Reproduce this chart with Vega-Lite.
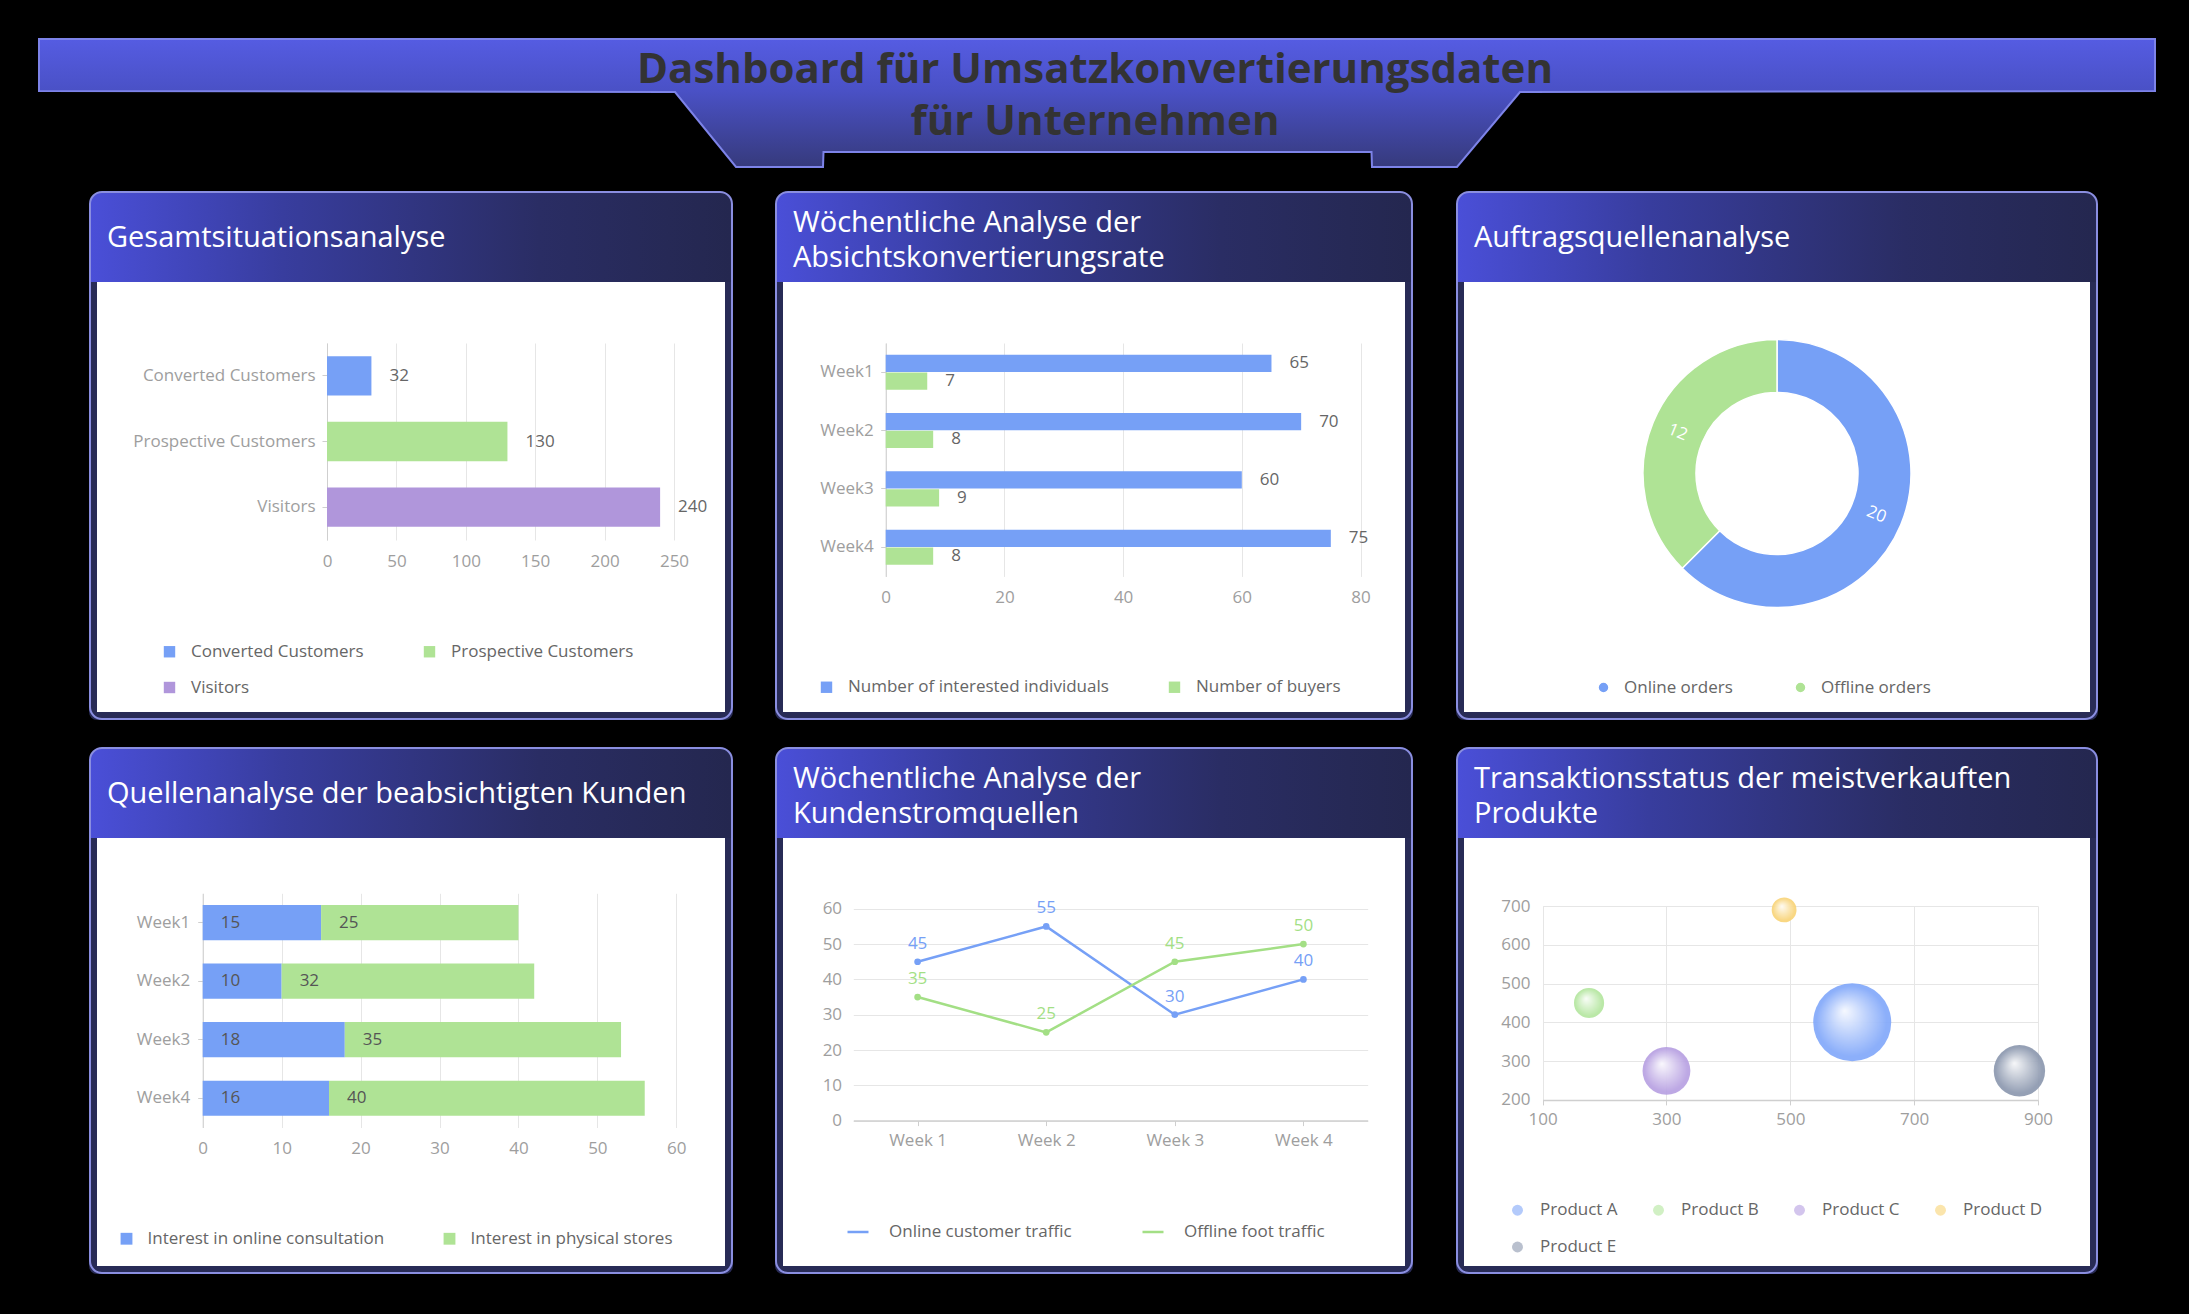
{
  "$schema": "https://vega.github.io/schema/vega-lite/v6.json",
  "width": 2189,
  "height": 1314,
  "autosize": {"type": "none"},
  "padding": 0,
  "background": "#ffffff",
  "config": {
    "font": "Open Sans",
    "view": {"stroke": null},
    "axis": {
      "labelFont": "Open Sans",
      "labelFontSize": 17,
      "labelColor": "#9e9e9e",
      "labelLimit": 320,
      "labelFlush": false,
      "labelOverlap": false,
      "domainColor": "#cfcfcf",
      "tickColor": "#cfcfcf",
      "gridColor": "#e6e6e6",
      "gridWidth": 1
    },
    "legend": {
      "labelFont": "Open Sans",
      "labelFontSize": 17,
      "labelColor": "#666666",
      "labelLimit": 420,
      "padding": 0
    }
  },
  "datasets": {
    "mask": [
      {"x0": 0, "x1": 2189, "y0": 0, "y1": 282},
      {"x0": 0, "x1": 2189, "y0": 712, "y1": 838},
      {"x0": 0, "x1": 2189, "y0": 1266, "y1": 1314},
      {"x0": 0, "x1": 97, "y0": 0, "y1": 1314},
      {"x0": 725, "x1": 783, "y0": 0, "y1": 1314},
      {"x0": 1405, "x1": 1464, "y0": 0, "y1": 1314},
      {"x0": 2090, "x1": 2189, "y0": 0, "y1": 1314}
    ],
    "panels": [
      {"x0": 97, "x1": 725, "top": 192, "y0": 282, "y1": 712, "title": ["Gesamtsituationsanalyse"]},
      {"x0": 783, "x1": 1405, "top": 192, "y0": 282, "y1": 712, "title": ["Wöchentliche Analyse der", "Absichtskonvertierungsrate"]},
      {"x0": 1464, "x1": 2090, "top": 192, "y0": 282, "y1": 712, "title": ["Auftragsquellenanalyse"]},
      {"x0": 97, "x1": 725, "top": 748, "y0": 838, "y1": 1266, "title": ["Quellenanalyse der beabsichtigten Kunden"]},
      {"x0": 783, "x1": 1405, "top": 748, "y0": 838, "y1": 1266, "title": ["Wöchentliche Analyse der", "Kundenstromquellen"]},
      {"x0": 1464, "x1": 2090, "top": 748, "y0": 838, "y1": 1266, "title": ["Transaktionsstatus der meistverkauften", "Produkte"]}
    ],
    "banner": [
      {"x": 39, "top": 39, "bottom": 91},
      {"x": 675, "top": 39, "bottom": 92},
      {"x": 736, "top": 39, "bottom": 167},
      {"x": 823, "top": 39, "bottom": 167},
      {"x": 823.5, "top": 39, "bottom": 152},
      {"x": 1371.5, "top": 39, "bottom": 152},
      {"x": 1372, "top": 39, "bottom": 167},
      {"x": 1457, "top": 39, "bottom": 167},
      {"x": 1520, "top": 39, "bottom": 92},
      {"x": 2155, "top": 39, "bottom": 91}
    ],
    "heading": [
      {"cx": 1095, "cy": 70, "text": ["Dashboard für Umsatzkonvertierungsdaten", "für Unternehmen"]}
    ],
    "overview": [
      {"stage": "Converted Customers", "count": 32},
      {"stage": "Prospective Customers", "count": 130},
      {"stage": "Visitors", "count": 240}
    ],
    "conversion": [
      {"week": "Week1", "series": "Number of interested individuals", "value": 65},
      {"week": "Week1", "series": "Number of buyers", "value": 7},
      {"week": "Week2", "series": "Number of interested individuals", "value": 70},
      {"week": "Week2", "series": "Number of buyers", "value": 8},
      {"week": "Week3", "series": "Number of interested individuals", "value": 60},
      {"week": "Week3", "series": "Number of buyers", "value": 9},
      {"week": "Week4", "series": "Number of interested individuals", "value": 75},
      {"week": "Week4", "series": "Number of buyers", "value": 8}
    ],
    "orders": [
      {"source": "Online orders", "orders": 20},
      {"source": "Offline orders", "orders": 12}
    ],
    "interest": [
      {"week": "Week1", "channel": "Interest in online consultation", "value": 15},
      {"week": "Week1", "channel": "Interest in physical stores", "value": 25},
      {"week": "Week2", "channel": "Interest in online consultation", "value": 10},
      {"week": "Week2", "channel": "Interest in physical stores", "value": 32},
      {"week": "Week3", "channel": "Interest in online consultation", "value": 18},
      {"week": "Week3", "channel": "Interest in physical stores", "value": 35},
      {"week": "Week4", "channel": "Interest in online consultation", "value": 16},
      {"week": "Week4", "channel": "Interest in physical stores", "value": 40}
    ],
    "traffic": [
      {"week": "Week 1", "channel": "Online customer traffic", "value": 45},
      {"week": "Week 2", "channel": "Online customer traffic", "value": 55},
      {"week": "Week 3", "channel": "Online customer traffic", "value": 30},
      {"week": "Week 4", "channel": "Online customer traffic", "value": 40},
      {"week": "Week 1", "channel": "Offline foot traffic", "value": 35},
      {"week": "Week 2", "channel": "Offline foot traffic", "value": 25},
      {"week": "Week 3", "channel": "Offline foot traffic", "value": 45},
      {"week": "Week 4", "channel": "Offline foot traffic", "value": 50}
    ],
    "products": [
      {"product": "Product A", "x": 600, "y": 400, "size": 88},
      {"product": "Product B", "x": 175, "y": 450, "size": 34},
      {"product": "Product C", "x": 300, "y": 275, "size": 54},
      {"product": "Product D", "x": 490, "y": 690, "size": 28},
      {"product": "Product E", "x": 870, "y": 275, "size": 58}
    ]
  },
  "resolve": {
    "scale": {"x": "independent", "y": "independent", "color": "independent", "theta": "independent", "size": "independent", "yOffset": "independent"},
    "axis": {"x": "independent", "y": "independent"},
    "legend": {"color": "independent", "size": "independent"}
  },
  "layer": [
    {
      "data": {"name": "mask"},
      "mark": {"type": "rect", "color": "#000000"},
      "encoding": {
        "x": {"field": "x0", "type": "quantitative", "scale": {"domain": [0, 2189], "range": [0, 2189], "nice": false, "zero": false}, "axis": null},
        "x2": {"field": "x1"},
        "y": {"field": "y0", "type": "quantitative", "scale": {"domain": [0, 1314], "range": [0, 1314], "nice": false, "zero": false}, "axis": null},
        "y2": {"field": "y1"}
      }
    },
    {
      "data": {"name": "panels"},
      "mark": {"type": "rect", "filled": false, "stroke": "#282b56", "strokeWidth": 8, "cornerRadius": 4, "xOffset": -4, "x2Offset": 4, "yOffset": -4, "y2Offset": 4},
      "encoding": {
        "x": {"field": "x0", "type": "quantitative", "scale": {"domain": [0, 2189], "range": [0, 2189], "nice": false, "zero": false}, "axis": null},
        "x2": {"field": "x1"},
        "y": {"field": "y0", "type": "quantitative", "scale": {"domain": [0, 1314], "range": [0, 1314], "nice": false, "zero": false}, "axis": null},
        "y2": {"field": "y1"}
      }
    },
    {
      "data": {"name": "panels"},
      "mark": {
        "type": "rect",
        "xOffset": -7,
        "x2Offset": 7,
        "cornerRadiusTopLeft": 12,
        "cornerRadiusTopRight": 12,
        "color": {
          "gradient": "linear", "x1": 0, "y1": 0, "x2": 1, "y2": 0,
          "stops": [
            {"offset": 0, "color": "#4a4fd8"},
            {"offset": 0.3, "color": "#383d9e"},
            {"offset": 0.7, "color": "#2a2d64"},
            {"offset": 1, "color": "#24274f"}
          ]
        }
      },
      "encoding": {
        "x": {"field": "x0", "type": "quantitative", "scale": {"domain": [0, 2189], "range": [0, 2189], "nice": false, "zero": false}, "axis": null},
        "x2": {"field": "x1"},
        "y": {"field": "top", "type": "quantitative", "scale": {"domain": [0, 1314], "range": [0, 1314], "nice": false, "zero": false}, "axis": null},
        "y2": {"field": "y0"}
      }
    },
    {
      "data": {"name": "panels"},
      "mark": {"type": "rect", "filled": false, "stroke": "#8a8ee0", "strokeWidth": 2, "cornerRadius": 12, "xOffset": -7, "x2Offset": 7, "y2Offset": 7},
      "encoding": {
        "x": {"field": "x0", "type": "quantitative", "scale": {"domain": [0, 2189], "range": [0, 2189], "nice": false, "zero": false}, "axis": null},
        "x2": {"field": "x1"},
        "y": {"field": "top", "type": "quantitative", "scale": {"domain": [0, 1314], "range": [0, 1314], "nice": false, "zero": false}, "axis": null},
        "y2": {"field": "y1"}
      }
    },
    {
      "data": {"name": "panels"},
      "transform": [{"filter": "length(datum.title) == 1"}],
      "mark": {"type": "text", "align": "left", "baseline": "middle", "dx": 10, "dy": 46, "fontSize": 29, "lineHeight": 35, "color": "#ffffff", "font": "Open Sans"},
      "encoding": {
        "x": {"field": "x0", "type": "quantitative", "scale": {"domain": [0, 2189], "range": [0, 2189], "nice": false, "zero": false}, "axis": null},
        "y": {"field": "top", "type": "quantitative", "scale": {"domain": [0, 1314], "range": [0, 1314], "nice": false, "zero": false}, "axis": null},
        "text": {"field": "title"}
      }
    },
    {
      "data": {"name": "panels"},
      "transform": [{"filter": "length(datum.title) == 2"}],
      "mark": {"type": "text", "align": "left", "baseline": "middle", "dx": 10, "dy": 30.5, "fontSize": 29, "lineHeight": 35, "color": "#ffffff", "font": "Open Sans"},
      "encoding": {
        "x": {"field": "x0", "type": "quantitative", "scale": {"domain": [0, 2189], "range": [0, 2189], "nice": false, "zero": false}, "axis": null},
        "y": {"field": "top", "type": "quantitative", "scale": {"domain": [0, 1314], "range": [0, 1314], "nice": false, "zero": false}, "axis": null},
        "text": {"field": "title"}
      }
    },
    {
      "data": {"name": "banner"},
      "mark": {
        "type": "area",
        "interpolate": "linear",
        "stroke": "#7d83e8",
        "strokeWidth": 2,
        "color": {
          "gradient": "linear", "x1": 0, "y1": 0, "x2": 0, "y2": 1,
          "stops": [
            {"offset": 0, "color": "#555ce2"},
            {"offset": 0.4, "color": "#4a51c6"},
            {"offset": 1, "color": "#363a7c"}
          ]
        }
      },
      "encoding": {
        "x": {"field": "x", "type": "quantitative", "scale": {"domain": [0, 2189], "range": [0, 2189], "nice": false, "zero": false}, "axis": null},
        "y": {"field": "top", "type": "quantitative", "scale": {"domain": [0, 1314], "range": [0, 1314], "nice": false, "zero": false}, "axis": null},
        "y2": {"field": "bottom"}
      }
    },
    {
      "data": {"name": "heading"},
      "mark": {"type": "text", "align": "center", "baseline": "middle", "fontSize": 42, "fontWeight": "bold", "lineHeight": 52, "color": "#333333", "font": "Open Sans"},
      "encoding": {
        "x": {"field": "cx", "type": "quantitative", "scale": {"domain": [0, 2189], "range": [0, 2189], "nice": false, "zero": false}, "axis": null},
        "y": {"field": "cy", "type": "quantitative", "scale": {"domain": [0, 1314], "range": [0, 1314], "nice": false, "zero": false}, "axis": null},
        "text": {"field": "text"}
      }
    },
    {
      "data": {"name": "overview"},
      "resolve": {"axis": {"x": "independent"}},
      "layer": [
        {
          "mark": {"type": "bar"},
          "encoding": {
            "y": {"field": "stage", "type": "nominal", "sort": null, "scale": {"range": [343, 540], "paddingInner": 0.4, "paddingOuter": 0.2},
                  "axis": {"orient": "left", "offset": -327, "title": null, "domain": true, "ticks": true, "tickSize": 5, "labelPadding": 7}},
            "x": {"field": "count", "type": "quantitative", "scale": {"domain": [0, 250], "range": [327, 674], "nice": false},
                  "axis": {"orient": "top", "offset": -343, "title": null, "grid": true, "labels": false, "ticks": false, "domain": false, "values": [0, 50, 100, 150, 200, 250]}},
            "color": {"field": "stage", "type": "nominal", "sort": null,
                      "scale": {"domain": ["Converted Customers", "Prospective Customers", "Visitors"], "range": ["#76a0f6", "#afe395", "#b096db"]},
                      "legend": {"title": null, "orient": "none", "legendX": 161, "legendY": 643, "direction": "horizontal", "columns": 2, "columnPadding": 57, "rowPadding": 18, "symbolType": "square", "symbolSize": 130, "labelOffset": 13}}
          }
        },
        {
          "mark": {"type": "text", "align": "left", "baseline": "middle", "dx": 18, "fontSize": 17, "color": "#666666"},
          "encoding": {
            "y": {"field": "stage", "type": "nominal", "sort": null, "scale": {"range": [343, 540], "paddingInner": 0.4, "paddingOuter": 0.2},
                  "axis": {"orient": "left", "offset": -327, "title": null, "domain": true, "ticks": true, "tickSize": 5, "labelPadding": 7}},
            "x": {"field": "count", "type": "quantitative", "scale": {"domain": [0, 250], "range": [327, 674], "nice": false},
                  "axis": {"orient": "bottom", "offset": -774, "title": null, "grid": false, "domain": false, "ticks": false, "tickSize": 0, "labelPadding": 13, "values": [0, 50, 100, 150, 200, 250]}},
            "text": {"field": "count", "type": "quantitative"}
          }
        }
      ]
    },
    {
      "data": {"name": "conversion"},
      "resolve": {"axis": {"x": "independent"}},
      "layer": [
        {
          "mark": {"type": "bar"},
          "encoding": {
            "y": {"field": "week", "type": "nominal", "sort": null, "scale": {"range": [343, 576.4], "paddingInner": 0.4, "paddingOuter": 0.2},
                  "axis": {"orient": "left", "offset": -885.7, "title": null, "domain": true, "ticks": true, "tickSize": 5, "labelPadding": 7.5}},
            "yOffset": {"field": "series", "type": "nominal", "sort": null, "scale": {"domain": ["Number of interested individuals", "Number of buyers"], "paddingInner": 0.03}},
            "x": {"field": "value", "type": "quantitative", "scale": {"domain": [0, 80], "range": [885.7, 1360.5], "nice": false},
                  "axis": {"orient": "top", "offset": -343, "title": null, "grid": true, "labels": false, "ticks": false, "domain": false, "values": [0, 20, 40, 60, 80]}},
            "color": {"field": "series", "type": "nominal", "sort": null,
                      "scale": {"domain": ["Number of interested individuals", "Number of buyers"], "range": ["#76a0f6", "#afe395"]},
                      "legend": {"title": null, "orient": "none", "legendX": 818, "legendY": 678.5, "direction": "horizontal", "columns": 2, "columnPadding": 57, "symbolType": "square", "symbolSize": 130, "labelOffset": 13}}
          }
        },
        {
          "mark": {"type": "text", "align": "left", "baseline": "middle", "dx": 18, "fontSize": 17, "color": "#666666"},
          "encoding": {
            "y": {"field": "week", "type": "nominal", "sort": null, "scale": {"range": [343, 576.4], "paddingInner": 0.4, "paddingOuter": 0.2},
                  "axis": {"orient": "left", "offset": -885.7, "title": null, "domain": true, "ticks": true, "tickSize": 5, "labelPadding": 7.5}},
            "yOffset": {"field": "series", "type": "nominal", "sort": null, "scale": {"domain": ["Number of interested individuals", "Number of buyers"], "paddingInner": 0.03}},
            "x": {"field": "value", "type": "quantitative", "scale": {"domain": [0, 80], "range": [885.7, 1360.5], "nice": false},
                  "axis": {"orient": "bottom", "offset": -737.6, "title": null, "grid": false, "domain": false, "ticks": false, "tickSize": 0, "labelPadding": 13, "values": [0, 20, 40, 60, 80]}},
            "text": {"field": "value", "type": "quantitative"}
          }
        }
      ]
    },
    {
      "data": {"name": "orders"},
      "layer": [
        {
          "mark": {"type": "arc", "radius": 134, "radius2": 81, "stroke": "#ffffff", "strokeWidth": 1.5},
          "encoding": {
            "theta": {"field": "orders", "type": "quantitative", "stack": true},
            "order": {"field": "orders", "type": "quantitative", "sort": "descending"},
            "x": {"datum": 0.5, "type": "quantitative", "scale": {"domain": [0, 1], "range": [1464, 2090], "nice": false, "zero": false}, "axis": null},
            "y": {"datum": 0.5, "type": "quantitative", "scale": {"domain": [0, 1], "range": [340, 607], "nice": false, "zero": false}, "axis": null},
            "color": {"field": "source", "type": "nominal", "sort": null,
                      "scale": {"domain": ["Online orders", "Offline orders"], "range": ["#76a0f6", "#afe395"]},
                      "legend": {"title": null, "orient": "none", "legendX": 1595, "legendY": 679, "direction": "horizontal", "columns": 2, "columnPadding": 59, "symbolType": "circle", "symbolSize": 120, "labelOffset": 12}}
          }
        },
        {
          "mark": {"type": "text", "radius": 107.5, "angle": 22.5, "fontSize": 17, "color": "#ffffff", "align": "center", "baseline": "middle"},
          "encoding": {
            "theta": {"field": "orders", "type": "quantitative", "stack": true},
            "order": {"field": "orders", "type": "quantitative", "sort": "descending"},
            "x": {"datum": 0.5, "type": "quantitative", "scale": {"domain": [0, 1], "range": [1464, 2090], "nice": false, "zero": false}, "axis": null},
            "y": {"datum": 0.5, "type": "quantitative", "scale": {"domain": [0, 1], "range": [340, 607], "nice": false, "zero": false}, "axis": null},
            "text": {"field": "orders", "type": "quantitative"}
          }
        }
      ]
    },
    {
      "data": {"name": "interest"},
      "resolve": {"axis": {"x": "independent"}},
      "layer": [
        {
          "mark": {"type": "bar"},
          "encoding": {
            "y": {"field": "week", "type": "nominal", "sort": null, "scale": {"range": [893.3, 1127.5], "paddingInner": 0.4, "paddingOuter": 0.2},
                  "axis": {"orient": "left", "offset": -202.7, "title": null, "domain": true, "ticks": true, "tickSize": 5, "labelPadding": 8}},
            "x": {"field": "value", "type": "quantitative", "stack": "zero", "scale": {"domain": [0, 60], "range": [202.7, 676.3], "nice": false},
                  "axis": {"orient": "top", "offset": -893.3, "title": null, "grid": true, "labels": false, "ticks": false, "domain": false, "values": [0, 10, 20, 30, 40, 50, 60]}},
            "order": {"field": "channel", "type": "nominal", "sort": "ascending"},
            "color": {"field": "channel", "type": "nominal", "sort": null,
                      "scale": {"domain": ["Interest in online consultation", "Interest in physical stores"], "range": ["#76a0f6", "#afe395"]},
                      "legend": {"title": null, "orient": "none", "legendX": 118, "legendY": 1230, "direction": "horizontal", "columns": 2, "columnPadding": 56, "symbolType": "square", "symbolSize": 140, "labelOffset": 12.5}}
          }
        },
        {
          "mark": {"type": "text", "align": "left", "baseline": "middle", "dx": 18, "fontSize": 17, "color": "#555555"},
          "encoding": {
            "y": {"field": "week", "type": "nominal", "sort": null, "scale": {"range": [893.3, 1127.5], "paddingInner": 0.4, "paddingOuter": 0.2},
                  "axis": {"orient": "left", "offset": -202.7, "title": null, "domain": true, "ticks": true, "tickSize": 5, "labelPadding": 8}},
            "x": {"field": "value", "type": "quantitative", "stack": "zero", "bandPosition": 0, "scale": {"domain": [0, 60], "range": [202.7, 676.3], "nice": false},
                  "axis": {"orient": "bottom", "offset": -186.5, "title": null, "grid": false, "domain": false, "ticks": false, "tickSize": 0, "labelPadding": 12.5, "values": [0, 10, 20, 30, 40, 50, 60]}},
            "order": {"field": "channel", "type": "nominal", "sort": "ascending"},
            "detail": {"field": "channel", "type": "nominal"},
            "text": {"field": "value", "type": "quantitative"}
          }
        }
      ]
    },
    {
      "data": {"name": "traffic"},
      "layer": [
        {
          "mark": {"type": "line", "strokeWidth": 2.5, "point": {"filled": true, "size": 45}},
          "encoding": {
            "x": {"field": "week", "type": "nominal", "sort": null, "scale": {"type": "point", "range": [853.3, 1367.7], "padding": 0.5},
                  "axis": {"orient": "bottom", "offset": -193.4, "title": null, "labelAngle": 0, "domain": true, "domainWidth": 1.5, "ticks": true, "tickSize": 5, "labelPadding": 7, "grid": false}},
            "y": {"field": "value", "type": "quantitative", "scale": {"domain": [0, 60], "range": [1120.6, 908.8], "nice": false},
                  "axis": {"orient": "left", "offset": -853.3, "title": null, "domain": false, "ticks": false, "tickSize": 0, "labelPadding": 11.7, "grid": true, "values": [0, 10, 20, 30, 40, 50, 60]}},
            "color": {"field": "channel", "type": "nominal", "sort": null,
                      "scale": {"domain": ["Online customer traffic", "Offline foot traffic"], "range": ["#76a0f6", "#a3df85"]},
                      "legend": {"title": null, "orient": "none", "legendX": 846, "legendY": 1220, "direction": "horizontal", "columns": 2, "columnPadding": 65, "symbolType": "stroke", "symbolSize": 441, "symbolStrokeWidth": 2.5, "labelOffset": 19}}
          }
        },
        {
          "mark": {"type": "text", "dy": -18, "fontSize": 17, "align": "center", "baseline": "middle"},
          "encoding": {
            "x": {"field": "week", "type": "nominal", "sort": null, "scale": {"type": "point", "range": [853.3, 1367.7], "padding": 0.5},
                  "axis": {"orient": "bottom", "offset": -193.4, "title": null, "labelAngle": 0, "domain": true, "domainWidth": 1.5, "ticks": true, "tickSize": 5, "labelPadding": 7, "grid": false}},
            "y": {"field": "value", "type": "quantitative", "scale": {"domain": [0, 60], "range": [1120.6, 908.8], "nice": false},
                  "axis": {"orient": "left", "offset": -853.3, "title": null, "domain": false, "ticks": false, "tickSize": 0, "labelPadding": 11.7, "grid": true, "values": [0, 10, 20, 30, 40, 50, 60]}},
            "color": {"field": "channel", "type": "nominal", "sort": null,
                      "scale": {"domain": ["Online customer traffic", "Offline foot traffic"], "range": ["#76a0f6", "#a3df85"]},
                      "legend": null},
            "text": {"field": "value", "type": "quantitative"}
          }
        }
      ]
    },
    {
      "data": {"name": "products"},
      "resolve": {"axis": {"x": "independent"}},
      "layer": [
        {
          "mark": {"type": "circle", "opacity": 0.9},
          "encoding": {
            "x": {"field": "x", "type": "quantitative", "scale": {"domain": [100, 900], "range": [1542.6, 2038], "nice": false, "zero": false},
                  "axis": {"orient": "top", "offset": -906, "title": null, "grid": true, "labels": false, "ticks": false, "domain": false, "values": [100, 300, 500, 700, 900]}},
            "y": {"field": "y", "type": "quantitative", "scale": {"domain": [200, 700], "range": [1099.9, 906], "nice": false, "zero": false},
                  "axis": {"orient": "left", "offset": -1542.6, "title": null, "grid": true, "domain": false, "ticks": false, "tickSize": 0, "labelPadding": 12.6, "values": [200, 300, 400, 500, 600, 700]}},
            "size": {"field": "size", "type": "quantitative", "scale": {"type": "pow", "exponent": 2, "domain": [0, 100], "range": [0, 7854]}, "legend": null},
            "color": {"field": "product", "type": "nominal", "sort": null,
                      "scale": {"domain": ["Product A", "Product B", "Product C", "Product D", "Product E"], "range": ["#80a6f9", "#b3e69d", "#b69ee1", "#f8d374", "#8a96ad"]},
                      "legend": {"title": null, "orient": "none", "legendX": 1509, "legendY": 1201.5, "direction": "horizontal", "columns": 4, "columnPadding": 32, "rowPadding": 19, "symbolType": "circle", "symbolSize": 120, "symbolOpacity": 0.6, "labelOffset": 14}}
          }
        },
        {
          "mark": {
            "type": "circle",
            "opacity": 1,
            "color": {
              "gradient": "radial", "x1": 0.4, "y1": 0.35, "r1": 0, "x2": 0.5, "y2": 0.5, "r2": 0.5,
              "stops": [
                {"offset": 0, "color": "rgba(255,255,255,0.92)"},
                {"offset": 0.5, "color": "rgba(255,255,255,0.4)"},
                {"offset": 0.9, "color": "rgba(255,255,255,0)"}
              ]
            }
          },
          "encoding": {
            "x": {"field": "x", "type": "quantitative", "scale": {"domain": [100, 900], "range": [1542.6, 2038], "nice": false, "zero": false},
                  "axis": {"orient": "bottom", "offset": -214.1, "title": null, "grid": false, "domain": true, "domainWidth": 1.5, "ticks": true, "tickSize": 5, "labelPadding": 7, "values": [100, 300, 500, 700, 900]}},
            "y": {"field": "y", "type": "quantitative", "scale": {"domain": [200, 700], "range": [1099.9, 906], "nice": false, "zero": false},
                  "axis": {"orient": "left", "offset": -1542.6, "title": null, "grid": true, "domain": false, "ticks": false, "tickSize": 0, "labelPadding": 12.6, "values": [200, 300, 400, 500, 600, 700]}},
            "size": {"field": "size", "type": "quantitative", "scale": {"type": "pow", "exponent": 2, "domain": [0, 100], "range": [0, 7854]}, "legend": null}
          }
        }
      ]
    }
  ]
}
